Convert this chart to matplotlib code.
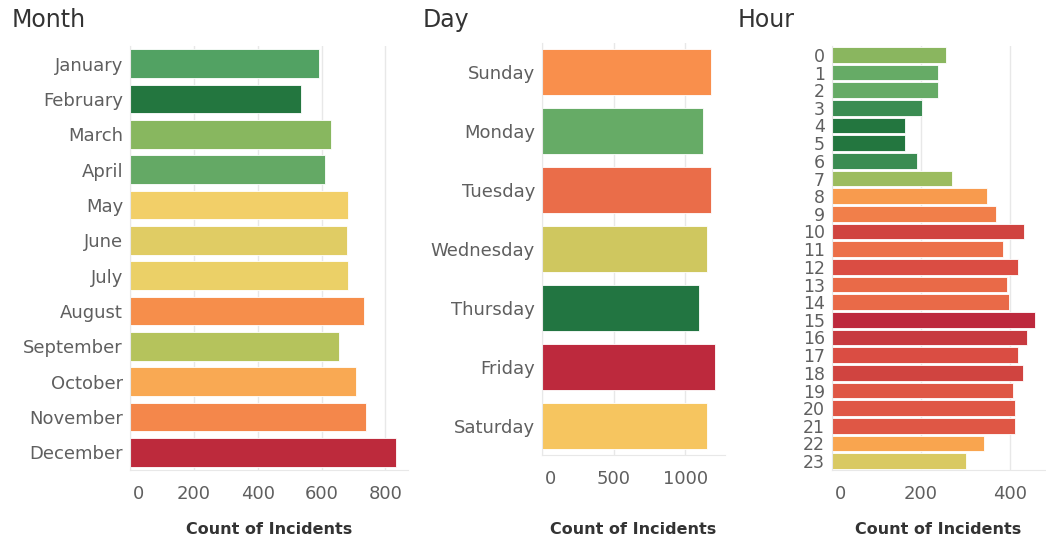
import matplotlib.pyplot as plt
from matplotlib.transforms import ScaledTranslation

# data
months = ["January", "February", "March", "April", "May", "June", "July",
          "August", "September", "October", "November", "December"]
month_counts = [592, 537, 629, 611, 684, 679, 684, 734, 654, 709, 740, 832]
month_colors = ["#52a263", "#23763f", "#88b75f", "#64a965", "#f2cf68", "#e0cc64",
                "#ebd067", "#f68e4b", "#b5c35c", "#f9a953", "#f4874b", "#bd2a3c"]

days = ["Sunday", "Monday", "Tuesday", "Wednesday", "Thursday", "Friday", "Saturday"]
day_counts = [1180, 1126, 1180, 1154, 1098, 1208, 1154]
day_colors = ["#f98f4c", "#66ab66", "#ea6d49", "#cfc75f", "#227541", "#bd293d", "#f6c55f"]

hours = [str(h) for h in range(24)]
hour_counts = [256, 238, 238, 202, 163, 163, 191, 269, 347, 369, 431, 383,
               418, 393, 398, 455, 437, 418, 428, 406, 410, 410, 340, 301]
hour_colors = ["#8ab65f", "#66ab66", "#66ab66", "#3b8c52", "#23763f", "#23763f",
               "#3b8c52", "#9cbc5f", "#f89b4e", "#f17f4a", "#d04440", "#ec7049",
               "#da4d43", "#e96a48", "#e96a48", "#bd293d", "#c73a3f", "#da4d43",
               "#d04440", "#df5745", "#df5745", "#df5745", "#f9a54f", "#d9c962"]

W, H = 1046, 541
fig = plt.figure(figsize=(W / 100, H / 100), dpi=100)

GRID = "#e8e8e8"
TXT = "#5f5f5f"


def panel(rect, labels, values, colors, xmax, xticks, height, label_size, label_y):
    left, top, right, bottom = rect
    ax = fig.add_axes([left / W, 1 - bottom / H, (right - left) / W, (bottom - top) / H])
    pos = list(range(len(labels)))
    ax.barh(pos, values, height=height, color=colors, edgecolor="white", linewidth=0.6, zorder=2)
    ax.set_ylim(len(labels) - 0.5, -0.5)
    ax.set_xlim(0, xmax)
    ax.set_yticks(pos)
    ax.set_yticklabels(labels, fontsize=label_size, color=TXT)
    ax.set_xticks(xticks)
    ax.set_xticklabels([str(t) for t in xticks], fontsize=13, color=TXT)
    ax.tick_params(axis="y", length=0, pad=5)
    ax.tick_params(axis="x", length=0, pad=11)
    # the zero label sits just right of the axis line, like in the reference
    first = ax.get_xticklabels()[0]
    first.set_transform(first.get_transform() + ScaledTranslation(8 / 100, 0, fig.dpi_scale_trans))
    ax.grid(axis="x", color=GRID, linewidth=1, zorder=0)
    for s in ["top", "right"]:
        ax.spines[s].set_visible(False)
    ax.spines["left"].set_color(GRID)
    ax.spines["bottom"].set_color(GRID)
    ax.set_xlabel("Count of Incidents", fontsize=11.5, fontweight="bold", color="#333333")
    ax.xaxis.label.set_va("center")
    ax.xaxis.set_label_coords(0.5, (bottom - label_y) / (bottom - top))
    return ax


panel((130, 46, 408, 470), months, month_counts, month_colors, 871,
      [0, 200, 400, 600, 800], 0.81, 13, 530)
panel((542, 43, 725, 455), days, day_counts, day_colors, 1278,
      [0, 500, 1000], 0.78, 13, 530)
panel((832, 46, 1045, 470), hours, hour_counts, hour_colors, 478,
      [0, 200, 400], 0.87, 12.5, 530)

for txt, x in [("Month", 12), ("Day", 423), ("Hour", 738)]:
    fig.text(x / W, 1 - 20 / H, txt, fontsize=17, color="#333333", ha="left", va="center")

fig.savefig("out.png", dpi=100)
